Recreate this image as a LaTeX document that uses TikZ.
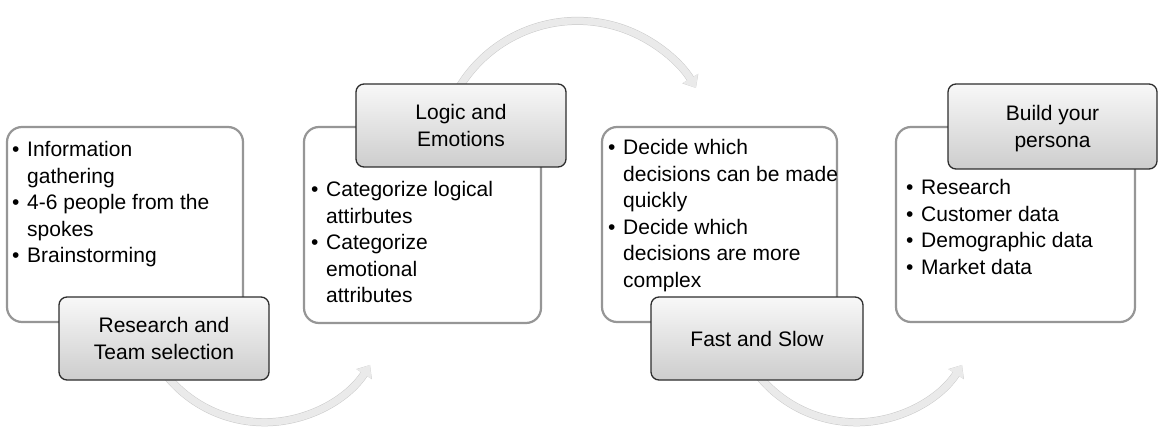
\documentclass[tikz,border=0pt]{standalone}
\usepackage{fontspec}
\setmainfont{Liberation Sans}
\usetikzlibrary{arrows.meta}
\definecolor{cboxline}{RGB}{150,150,150}
\definecolor{tboxline}{RGB}{45,45,45}
\definecolor{ttop}{RGB}{248,248,248}
\definecolor{tbot}{RGB}{205,205,205}
\definecolor{bandc}{RGB}{234,234,234}
\definecolor{bands}{RGB}{165,165,165}
\newcommand{\bitem}[1]{\par\noindent\hangindent=15pt\hangafter=1\makebox[15pt][l]{\textbullet}#1}
\newcommand{\blist}[1]{\begin{minipage}[t]{240pt}\raggedright\fontsize{21}{26.5}\selectfont #1\end{minipage}}
\tikzset{
  cbox/.style={draw=cboxline, line width=2.2pt, rounded corners=15pt, fill=white, inner sep=0pt},
  tbox/.style={draw=tboxline, line width=1.3pt, rounded corners=8pt, top color=ttop, bottom color=tbot,
    inner sep=0pt, align=center, text depth=0pt, font=\fontsize{21}{26.5}\selectfont},
  btext/.style={anchor=base west, inner sep=0pt},
  band/.style={line width=7pt, draw=bandc, -{Triangle[width=17pt,length=11pt,fill=bandc]}},
  bandshadow/.style={line width=8pt, draw=bands, opacity=0.6, -{Triangle[width=18pt,length=11pt,fill=bands]}}
}
\begin{document}
\begin{tikzpicture}[x=1pt,y=1pt]
\useasboundingbox (0,0) rectangle (1158,-430);
% arc centres
\coordinate (o1) at (264.4,-296.3);
\coordinate (o2) at (577.4,-159.2);
\coordinate (o3) at (856.4,-296.3);
% arrows (behind the boxes)
\draw[bandshadow, xshift=0.8pt, yshift=-1.6pt] ([shift={(215:126)}]o1) arc (215:327:126);
\draw[band] ([shift={(215:126)}]o1) arc (215:327:126);
\draw[bandshadow, xshift=0.8pt, yshift=-1.6pt] ([shift={(155:138.3)}]o2) arc (155:31:138.3);
\draw[band] ([shift={(155:138.3)}]o2) arc (155:31:138.3);
\draw[bandshadow, xshift=0.8pt, yshift=-1.6pt] ([shift={(215:126)}]o3) arc (215:327:126);
\draw[band] ([shift={(215:126)}]o3) arc (215:327:126);
% content boxes
\node[cbox, minimum width=236pt, minimum height=195pt] (c1) at (125,-224.5) {};
\node[cbox, minimum width=237pt, minimum height=196pt] (c2) at (422.5,-225) {};
\node[cbox, minimum width=235pt, minimum height=195pt] (c3) at (719.5,-224.5) {};
\node[cbox, minimum width=239pt, minimum height=195pt] (c4) at (1015.5,-224.5) {};
% content texts
\node[btext] (x1) at (12,-157) {\blist{\bitem{Information\newline gathering}\bitem{4-6 people from the\newline spokes}\bitem{Brainstorming}}};
\node[btext] (x2) at (311,-197) {\blist{\bitem{Categorize logical\newline attirbutes}\bitem{Categorize\newline emotional\newline attributes}}};
\node[btext] (x3) at (608,-155) {\blist{\bitem{Decide which\newline decisions can be made\newline quickly}\bitem{Decide which\newline decisions are more\newline complex}}};
\node[btext] (x4) at (906,-195) {\blist{\bitem{Research}\bitem{Customer data}\bitem{Demographic data}\bitem{Market data}}};
% title boxes
\node[tbox, minimum width=210pt, minimum height=83pt] (t1) at (164,-338.5) {Research and\\Team selection};
\node[tbox, minimum width=210pt, minimum height=83pt] (t2) at (461,-125.5) {Logic and\\Emotions};
\node[tbox, minimum width=212pt, minimum height=83pt] (t3) at (757,-338.5) {Fast and Slow};
\node[tbox, minimum width=209pt, minimum height=85pt] (t4) at (1052.5,-126.5) {Build your\\persona};
\end{tikzpicture}
\end{document}
